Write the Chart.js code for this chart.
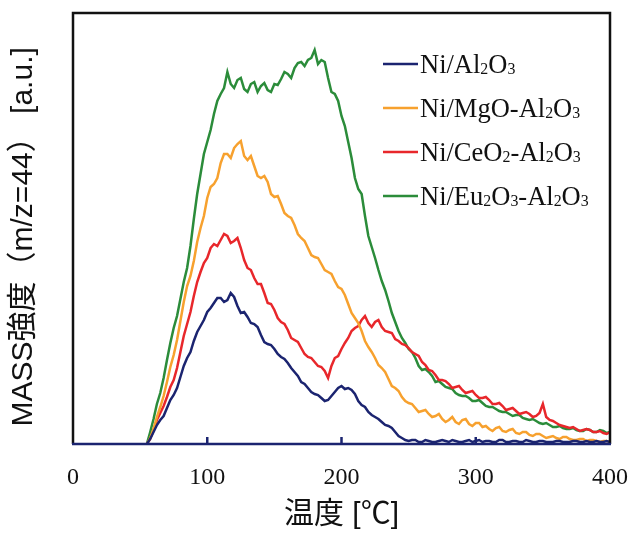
<!DOCTYPE html>
<html>
<head>
<meta charset="utf-8">
<script src="https://cdn.jsdelivr.net/npm/chart.js@4.4.0/dist/chart.umd.min.js"></script>
<style>
  html, body { margin: 0; padding: 0; background: #fff; }
  #wrap { width: 631px; height: 535px; }
</style>
</head>
<body>
<div id="wrap"><canvas id="chart"></canvas></div>
<script>
// temperature [°C]
const temps = [55, 57.5, 60, 62.5, 65, 67.5, 70, 72.5, 75, 77.5,
  80, 82.5, 85, 87.5, 90, 92.5, 95, 97.5, 100, 102.5,
  105, 107.5, 110, 112.5, 115, 117.5, 120, 122.5, 125, 127.5,
  130, 132.5, 135, 137.5, 140, 142.5, 145, 147.5, 150, 152.5,
  155, 157.5, 160, 162.5, 165, 167.5, 170, 172.5, 175, 177.5,
  180, 182.5, 185, 187.5, 190, 192.5, 195, 197.5, 200, 202.5,
  205, 207.5, 210, 212.5, 215, 217.5, 220, 222.5, 225, 227.5,
  230, 232.5, 235, 237.5, 240, 242.5, 245, 247.5, 250, 252.5,
  255, 257.5, 260, 262.5, 265, 267.5, 270, 272.5, 275, 277.5,
  280, 282.5, 285, 287.5, 290, 292.5, 295, 297.5, 300, 302.5,
  305, 307.5, 310, 312.5, 315, 317.5, 320, 322.5, 325, 327.5,
  330, 332.5, 335, 337.5, 340, 342.5, 345, 347.5, 350, 352.5,
  355, 357.5, 360, 362.5, 365, 367.5, 370, 372.5, 375, 377.5,
  380, 382.5, 385, 387.5, 390, 392.5, 395, 397.5, 400];

// MASS intensity m/z=44 (a.u.)
const niAl = [0, 5, 12, 19, 24, 28, 36, 44, 49, 56, 67, 78, 86, 92, 103, 112, 118, 124, 132, 136,
  141, 146, 146, 142, 144, 151, 147, 138, 131, 132, 127, 121, 120, 117, 109, 102, 100, 99, 95, 90,
  87, 85, 81, 76, 72, 68, 62, 60, 56, 52, 50, 49, 46, 43, 44, 48, 52, 56, 58, 55,
  56, 54, 50, 43, 39, 37, 32, 29, 27, 25, 22, 19, 18, 16, 12, 8, 6, 4, 3, 4,
  4, 2, 2, 4, 3, 2, 2, 3, 4, 3, 2, 4, 3, 2, 2, 3, 4, 2, 3, 4,
  2, 3, 3, 2, 2, 4, 4, 2, 2, 3, 3, 2, 2, 4, 3, 2, 2, 3, 3, 2,
  2, 2, 3, 3, 2, 2, 2, 3, 3, 2, 2, 3, 2, 2, 3, 2, 2, 3, 2];

const niMg = [0, 6, 15, 27, 37, 48, 62, 77, 89, 104, 123, 142, 158, 168, 183, 202, 216, 228, 246, 257,
  260, 266, 281, 290, 290, 286, 296, 300, 303, 288, 284, 288, 278, 268, 266, 268, 262, 250, 247, 248,
  240, 231, 228, 226, 219, 210, 206, 203, 196, 189, 187, 186, 180, 174, 172, 170, 163, 157, 155, 149,
  140, 131, 126, 121, 113, 103, 97, 92, 86, 79, 76, 72, 65, 58, 56, 53, 47, 43, 41, 40,
  36, 32, 33, 34, 30, 27, 28, 30, 25, 22, 24, 27, 22, 20, 24, 25, 20, 18, 21, 21,
  17, 18, 15, 13, 16, 17, 13, 12, 14, 15, 11, 10, 12, 12, 9, 8, 10, 10, 8, 6,
  7, 8, 6, 5, 7, 7, 5, 4, 4, 5, 5, 3, 4, 4, 3, 2, 3, 3, 2];

const niCe = [0, 5, 14, 24, 31, 38, 47, 57, 64, 76, 92, 108, 120, 132, 148, 162, 172, 181, 186, 196,
  200, 198, 204, 210, 208, 201, 203, 206, 196, 184, 176, 174, 166, 160, 160, 151, 141, 140, 134, 126,
  122, 120, 114, 106, 104, 102, 96, 90, 87, 86, 82, 78, 77, 73, 66, 78, 86, 88, 95, 101,
  106, 113, 116, 118, 124, 128, 121, 117, 122, 124, 117, 113, 112, 111, 105, 103, 100, 99, 96, 92,
  90, 88, 82, 79, 74, 73, 69, 64, 64, 63, 60, 56, 57, 58, 54, 51, 52, 53, 49, 46,
  46, 47, 44, 40, 40, 41, 38, 34, 35, 36, 33, 30, 31, 32, 30, 27, 28, 31, 40, 27,
  24, 23, 21, 19, 18, 17, 16, 17, 15, 13, 14, 15, 14, 12, 12, 13, 11, 10, 12];

const niEu = [0, 12, 25, 40, 51, 66, 84, 101, 116, 128, 145, 162, 176, 198, 225, 250, 270, 290, 302, 314,
  330, 343, 350, 356, 372, 360, 356, 364, 366, 355, 352, 360, 362, 352, 358, 361, 354, 352, 360, 359,
  365, 372, 370, 366, 376, 381, 382, 378, 384, 386, 394, 380, 384, 382, 366, 352, 350, 343, 328, 318,
  302, 286, 266, 255, 250, 228, 208, 197, 186, 174, 163, 154, 143, 131, 122, 113, 106, 101, 95, 92,
  86, 78, 74, 75, 72, 68, 62, 63, 60, 57, 56, 55, 51, 49, 48, 48, 46, 43, 43, 44,
  41, 38, 37, 37, 35, 33, 32, 32, 30, 28, 29, 29, 26, 25, 24, 25, 23, 21, 20, 21,
  19, 17, 17, 18, 16, 15, 15, 16, 14, 13, 13, 15, 14, 12, 12, 14, 13, 11, 12];

const seriesLabels = ['Ni/Al₂O₃', 'Ni/MgO-Al₂O₃', 'Ni/CeO₂-Al₂O₃', 'Ni/Eu₂O₃-Al₂O₃'];
const seriesColors = ['#1b2470', '#f7a12e', '#e8272b', '#2b8c3a'];
const xTicks = [0, 100, 200, 300, 400];

const serif = '"Liberation Serif", "Times New Roman", serif';
const sans = '"Liberation Sans", Arial, "Noto Sans CJK JP", sans-serif';

const toPoints = (ys) => ys.map((y, i) => ({ x: temps[i], y: y }));

// frame, inward ticks and the legend with subscripts
const framePlugin = {
  id: 'frame',
  afterDraw(chart) {
    const { ctx, chartArea: a, scales } = chart;
    ctx.save();
    ctx.lineWidth = 2.5;
    ctx.strokeStyle = '#111';
    ctx.beginPath();
    ctx.moveTo(a.left, a.bottom);
    ctx.lineTo(a.left, a.top);
    ctx.lineTo(a.right, a.top);
    ctx.lineTo(a.right, a.bottom);
    ctx.stroke();
    ctx.strokeStyle = '#1b2470';
    ctx.beginPath();
    ctx.moveTo(a.left - 1, a.bottom);
    ctx.lineTo(a.right + 1, a.bottom);
    xTicks.slice(1, -1).forEach(t => {
      const px = scales.x.getPixelForValue(t);
      ctx.moveTo(px, a.bottom);
      ctx.lineTo(px, a.bottom - 7);
    });
    ctx.stroke();

    // legend
    const size = 26.5;
    const x0 = a.left + 310;
    chart.data.datasets.forEach((ds, i) => {
      const y = a.top + 51 + i * 44;
      ctx.strokeStyle = ds.borderColor;
      ctx.lineWidth = 2.5;
      ctx.beginPath();
      ctx.moveTo(x0, y);
      ctx.lineTo(x0 + 35, y);
      ctx.stroke();
      let x = x0 + 37;
      ctx.fillStyle = '#111';
      ctx.textBaseline = 'alphabetic';
      for (const ch of ds.label) {
        const sub = ch === '₂' ? '2' : ch === '₃' ? '3' : null;
        if (sub) {
          ctx.font = (size * 0.6) + 'px ' + serif;
          ctx.fillText(sub, x, y + size * 0.33 + 1);
          x += ctx.measureText(sub).width;
        } else {
          ctx.font = size + 'px ' + serif;
          ctx.fillText(ch, x, y + size * 0.33);
          x += ctx.measureText(ch).width;
        }
      }
    });
    ctx.restore();
  }
};

new Chart(document.getElementById('chart'), {
  type: 'line',
  data: {
    datasets: [niAl, niMg, niCe, niEu].map((ys, i) => ({
      label: seriesLabels[i],
      data: toPoints(ys),
      borderColor: seriesColors[i],
      borderWidth: 2.5,
      pointRadius: 0,
      tension: 0,
      fill: false
    }))
  },
  options: {
    responsive: true,
    maintainAspectRatio: false,
    animation: false,
    layout: { padding: { left: 6, right: 21, top: 13, bottom: 2 } },
    plugins: { legend: { display: false }, tooltip: { enabled: false } },
    scales: {
      x: {
        type: 'linear',
        min: 0,
        max: 400,
        afterBuildTicks: (s) => { s.ticks = xTicks.map(v => ({ value: v })); },
        afterFit: (s) => { s.height = 89; s.paddingLeft = 0; s.paddingRight = 0; },
        grid: { display: false, drawTicks: false },
        border: { display: false },
        ticks: { color: '#111', padding: 19, font: { family: serif, size: 24 } },
        title: {
          display: true,
          text: '温度 [℃]',
          color: '#111',
          font: { family: sans, size: 30 },
          padding: { top: 5, bottom: 0 }
        }
      },
      y: {
        min: 0,
        max: 431,
        grid: { display: false, drawTicks: false },
        border: { display: false },
        ticks: { display: false },
        title: {
          display: true,
          text: 'MASS強度（m/z=44） [a.u.]  ',
          color: '#111',
          font: { family: sans, size: 30 },
          padding: { top: 0, bottom: 31 }
        }
      }
    }
  },
  plugins: [framePlugin]
});
</script>
</body>
</html>
